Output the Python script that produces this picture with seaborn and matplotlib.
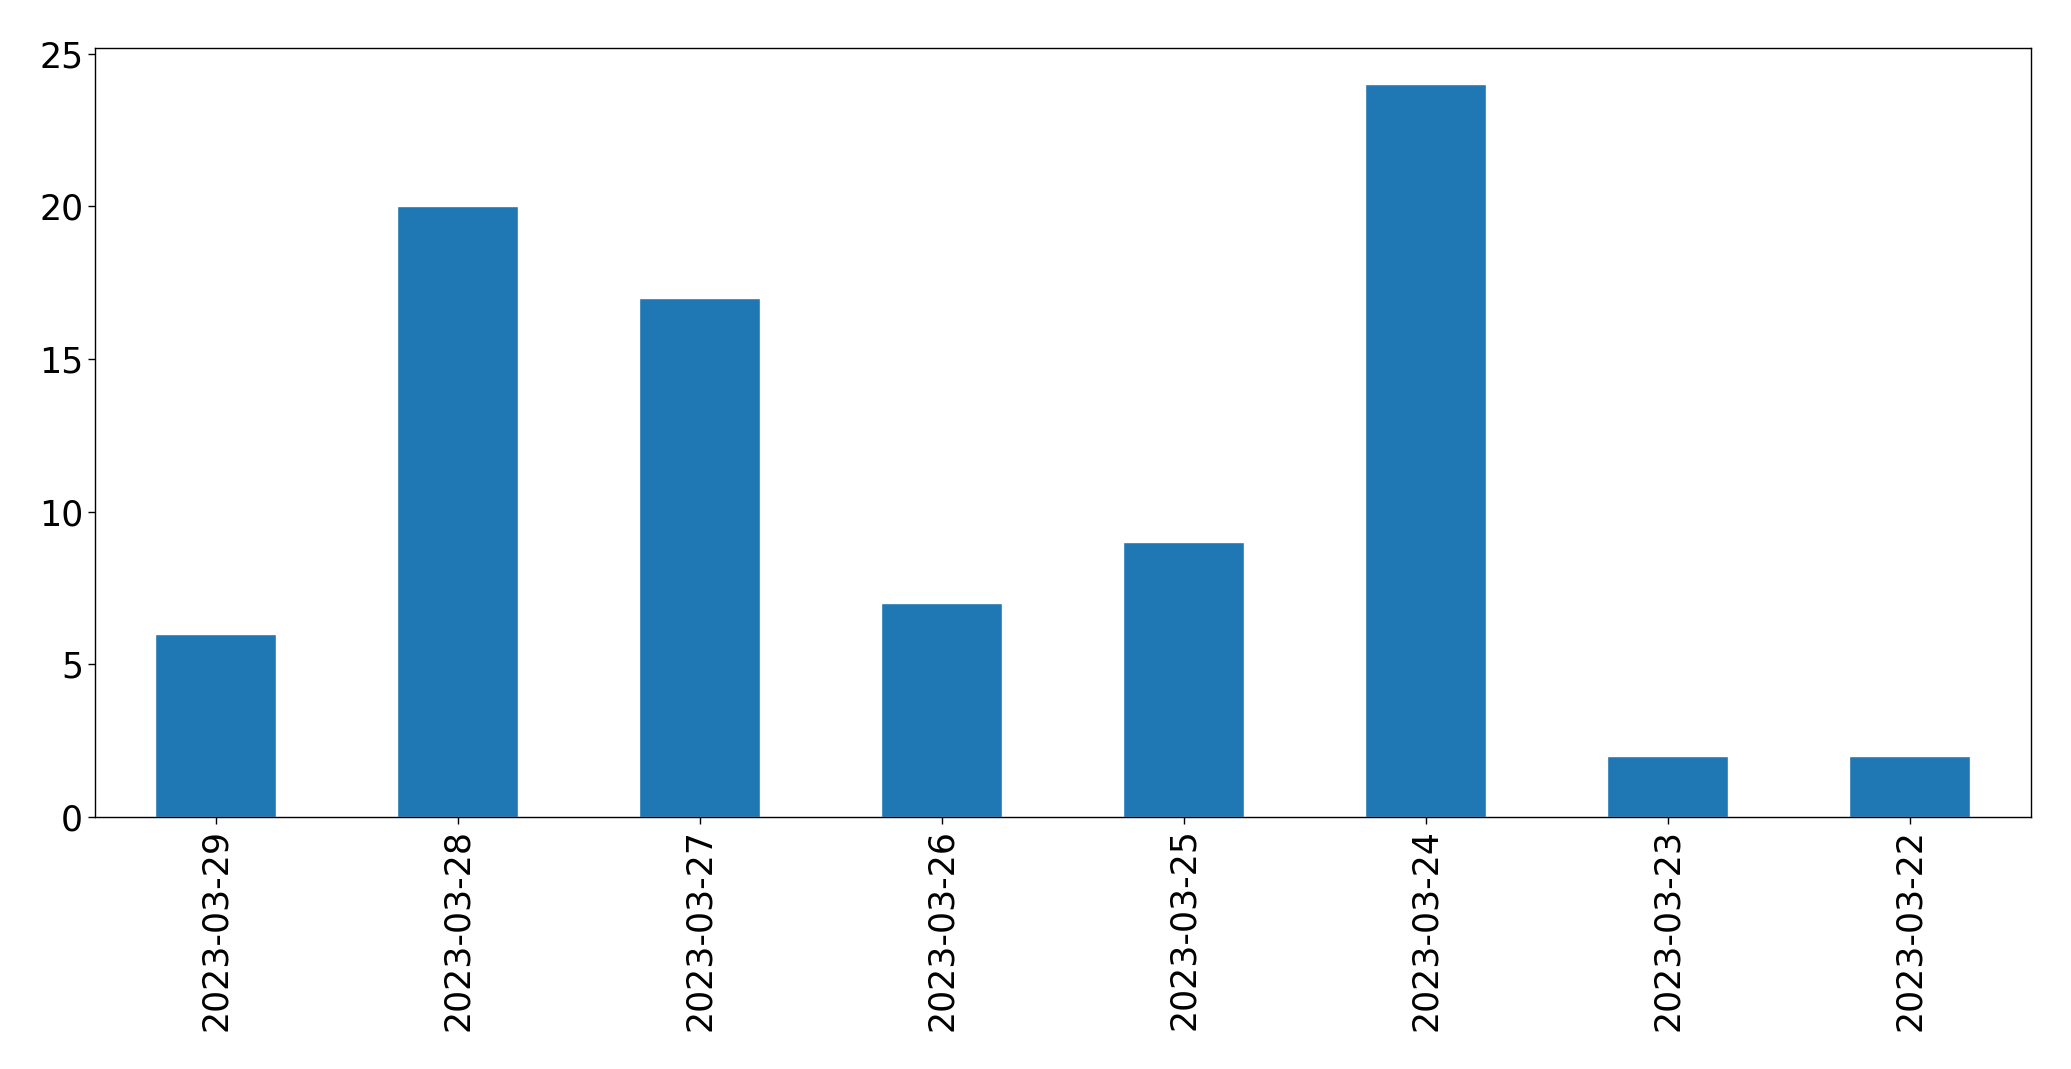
import matplotlib

matplotlib.use("Agg")
import matplotlib.pyplot as plt
import pandas as pd
import seaborn as sns

DATES = [
    "2023-03-29",
    "2023-03-28",
    "2023-03-27",
    "2023-03-26",
    "2023-03-25",
    "2023-03-24",
    "2023-03-23",
    "2023-03-22",
]
COUNTS = [6, 20, 17, 7, 9, 24, 2, 2]
Y_TICKS = [0, 5, 10, 15, 20, 25]

W, H, DPI = 2071, 1069, 100


def main() -> None:
    sns.set_style("ticks")
    plt.rcParams["font.family"] = ["DejaVu Sans"]

    df = pd.DataFrame({"date": DATES, "count": COUNTS})

    fig = plt.figure(figsize=(W / DPI, H / DPI), dpi=DPI)
    ax = fig.add_axes([94.7 / W, 1 - 817 / H, (2031 - 94.7) / W, (817 - 47.7) / H])

    sns.barplot(
        data=df,
        x="date",
        y="count",
        order=DATES,
        color="#1f77b4",
        saturation=1,
        width=0.5,
        ax=ax,
    )
    ax.set_xlim(-0.5, len(DATES) - 0.5)
    ax.set_ylim(0, 25.2)
    ax.set_yticks(Y_TICKS)
    ax.set_xlabel("")
    ax.set_ylabel("")
    ax.tick_params(
        axis="both", labelsize=25, length=4.8, width=1,
        color="black", labelcolor="black",
    )
    ax.tick_params(axis="x", labelrotation=90)
    for spine in ax.spines.values():
        spine.set_visible(True)
        spine.set_color("black")
        spine.set_linewidth(1)

    fig.savefig("out.png", dpi=DPI)
    plt.close(fig)


if __name__ == "__main__":
    main()
